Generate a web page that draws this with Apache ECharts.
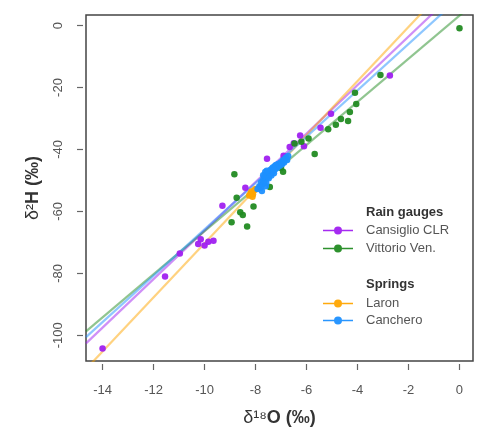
<!DOCTYPE html>
<html><head><meta charset="utf-8">
<script src="https://cdn.jsdelivr.net/npm/echarts@6/dist/echarts.min.js"></script>
<style>html,body{margin:0;padding:0;background:#fff}#c{width:480px;height:427px}</style>
</head><body><div id="c"></div>
<script>
// ---- data ----
const xTicks = [-14, -12, -10, -8, -6, -4, -2, 0];
const yTicks = [0, -20, -40, -60, -80, -100];
const seriesNames = ['Cansiglio CLR', 'Vittorio Ven.', 'Laron', 'Canchero'];
const seriesColors = ['#a020f0', '#228b22', '#ffa500', '#1e90ff'];
// regression lines (intercept, slope)
const fitIntercepts = [12.1, 3.2, 17.0, 9.0];
const fitSlopes = [7.83, 6.96, 8.73, 7.48];

const cansiglio = [
  [-14.0,-104.3],[-11.55,-81.0],[-10.97,-73.6],[-10.25,-70.5],[-10.15,-69.0],[-10.0,-71.0],
  [-9.85,-69.8],[-9.65,-69.5],[-9.3,-58.2],[-8.4,-52.4],[-7.55,-43.0],[-6.9,-42.0],[-6.66,-39.2],
  [-6.5,-38.0],[-6.25,-35.5],[-6.1,-39.0],[-5.45,-33.0],[-5.04,-28.5],[-2.73,-16.1]
];
const vittorio = [
  [0.0,-0.9],[-3.1,-16.0],[-4.1,-21.7],[-4.05,-25.3],[-4.3,-27.9],[-4.37,-30.8],[-4.65,-30.2],
  [-4.85,-32.0],[-5.15,-33.5],[-5.68,-41.5],[-5.92,-36.5],[-6.2,-37.5],[-6.47,-38.1],[-6.92,-47.2],
  [-7.0,-46.0],[-7.44,-52.1],[-8.83,-48.0],[-8.74,-55.6],[-8.6,-60.3],[-8.5,-61.2],[-8.08,-58.4],
  [-8.94,-63.5],[-8.33,-64.9]
];
const laron = [
  [-8.25,-54.9],[-8.2,-54.2],[-8.16,-53.6],[-8.1,-54.5],[-8.05,-53.2],[-8.12,-55.3],[-8.0,-52.8]
];
const canchero = [
  [-7.92,-52.8],[-7.85,-51.9],[-7.8,-52.4],[-7.78,-50.6],[-7.72,-51.2],[-7.7,-49.8],[-7.66,-50.3],
  [-7.63,-48.9],[-7.6,-49.5],[-7.58,-50.8],[-7.55,-48.2],[-7.52,-47.6],[-7.5,-48.8],[-7.48,-49.3],
  [-7.46,-47.1],[-7.44,-48.0],[-7.42,-46.6],[-7.4,-47.5],[-7.38,-48.4],[-7.36,-46.2],[-7.34,-47.0],
  [-7.32,-45.8],[-7.3,-46.9],[-7.28,-47.7],[-7.25,-45.4],[-7.22,-46.3],[-7.2,-45.0],[-7.15,-45.9],
  [-7.1,-44.6],[-7.05,-45.3],[-7.0,-44.1],[-6.96,-44.8],[-6.92,-43.5],[-6.88,-44.2],[-6.84,-43.0],
  [-6.8,-42.6],[-6.76,-43.4],[-6.72,-42.1],[-7.62,-47.3],[-7.7,-48.3],[-7.56,-46.9],[-7.75,-53.4],
  [-7.6,-51.9]
];
const pointSets = [cansiglio, vittorio, laron, canchero];

const xMin = -14.65, xMax = 0.53, yMin = -108.3, yMax = 3.4;

const FONT = '"Liberation Sans", Arial, Helvetica, sans-serif';
const legendIcon = 'path://M0,4.2 L30,4.2 L30,5.8 L0,5.8 Z M11,5 A4,4 0 1,1 19,5 A4,4 0 1,1 11,5 Z';

const series = [];
seriesNames.forEach((n, i) => {
  series.push({
    type: 'line', name: 'fit ' + n, silent: true, clip: true, symbol: 'none',
    data: [[xMin, fitIntercepts[i] + fitSlopes[i] * xMin], [xMax, fitIntercepts[i] + fitSlopes[i] * xMax]],
    lineStyle: { color: seriesColors[i], width: 2.2, opacity: 0.5 }, z: 1
  });
});
seriesNames.forEach((n, i) => {
  series.push({
    type: 'scatter', name: n, data: pointSets[i], symbol: 'circle', symbolSize: 6.5,
    itemStyle: { color: seriesColors[i], opacity: 0.95 }, z: 3
  });
});

const chart = echarts.init(document.getElementById('c'));
chart.setOption({
  animation: false,
  textStyle: { fontFamily: FONT },
  grid: { left: 86, right: 7, top: 15, bottom: 66, outerBoundsMode: 'none', containLabel: false,
          show: true, borderColor: '#444', borderWidth: 1.5, backgroundColor: 'transparent' },
  xAxis: {
    type: 'value', min: xMin, max: xMax, offset: 3,
    axisLine: { show: false, onZero: false }, splitLine: { show: false },
    axisTick: { show: true, length: 6, customValues: xTicks, lineStyle: { color: '#666', width: 1.2 } },
    axisLabel: { customValues: xTicks, margin: 20, fontSize: 13, color: '#555', fontFamily: FONT },
    name: '{d|δ¹⁸}{b|O (‰)}', nameLocation: 'middle', nameGap: 45,
    nameTextStyle: { rich: { d: { fontSize: 18, color: '#333', fontFamily: FONT }, b: { fontSize: 18, fontWeight: 'bold', color: '#333', fontFamily: FONT } } }
  },
  yAxis: {
    type: 'value', min: yMin, max: yMax, offset: 3,
    axisLine: { show: false, onZero: false }, splitLine: { show: false },
    axisTick: { show: true, length: 6, customValues: yTicks, lineStyle: { color: '#666', width: 1.2 } },
    axisLabel: { customValues: yTicks, margin: 18, rotate: 90, fontSize: 13, color: '#555', fontFamily: FONT },
    name: '{d|δ²}{b|H (‰)}', nameLocation: 'middle', nameGap: 41, nameRotate: 90,
    nameTextStyle: { rich: { d: { fontSize: 18, color: '#333', fontFamily: FONT }, b: { fontSize: 18, fontWeight: 'bold', color: '#333', fontFamily: FONT } } }
  },
  legend: [
    { data: seriesNames.slice(0, 2), orient: 'vertical', left: 318, top: 219, itemWidth: 30, itemHeight: 10, itemGap: 5,
      icon: legendIcon, selectedMode: false,
      textStyle: { fontSize: 13, color: '#555', fontFamily: FONT, padding: [0, 0, 0, 8] } },
    { data: seriesNames.slice(2, 4), orient: 'vertical', left: 318, top: 292, itemWidth: 30, itemHeight: 10, itemGap: 4,
      icon: legendIcon, selectedMode: false,
      textStyle: { fontSize: 13, color: '#555', fontFamily: FONT, padding: [0, 0, 0, 8] } }
  ],
  graphic: [
    { type: 'text', left: 366, top: 206, style: { text: 'Rain gauges', font: 'bold 13px ' + FONT, fill: '#333' } },
    { type: 'text', left: 366, top: 278, style: { text: 'Springs', font: 'bold 13px ' + FONT, fill: '#333' } }
  ],
  series: series
});
</script></body></html>
